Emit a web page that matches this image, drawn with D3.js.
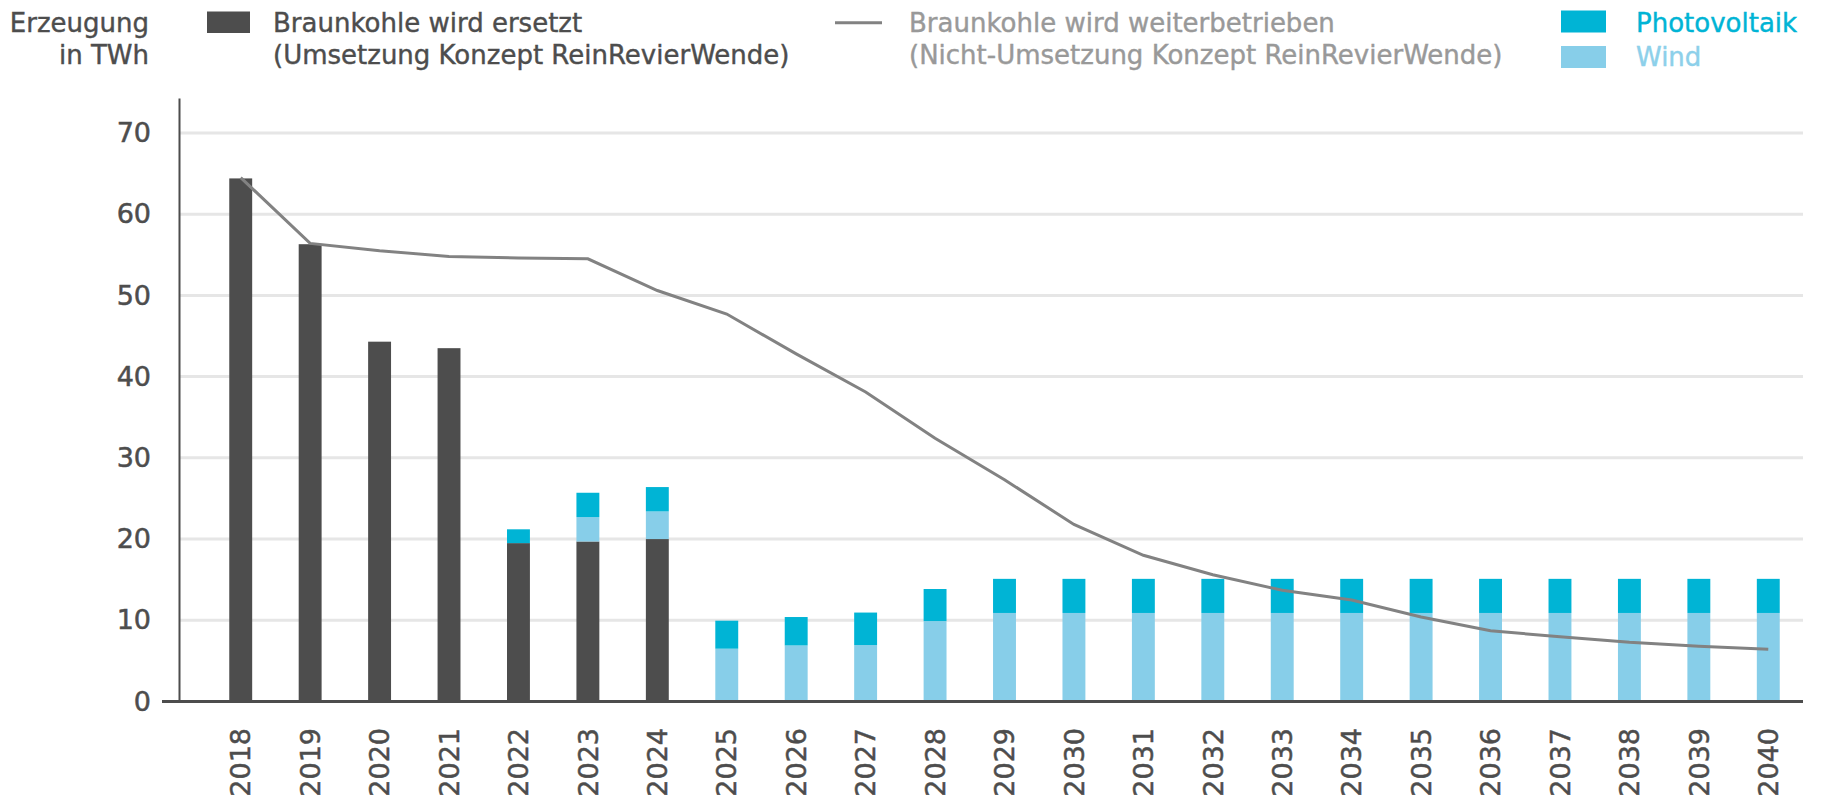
<!DOCTYPE html>
<html>
<head>
<meta charset="utf-8">
<script src="https://cdn.jsdelivr.net/npm/d3@7"></script>
<style>
    body { margin: 0; background: #fff; }
    svg text { font-family: "DejaVu Sans", sans-serif; }
</style>
</head>
<body>
<div id="chart"></div>
<script>
let years = ["2018","2019","2020","2021","2022","2023","2024","2025","2026","2027","2028","2029",
    "2030","2031","2032","2033","2034","2035","2036","2037","2038","2039","2040"]
// TWh
let braunkohle = [64.4, 56.3, 44.3, 43.5, 19.5, 19.7, 20.0, 0, 0, 0, 0, 0, 0, 0, 0, 0, 0, 0, 0, 0, 0, 0, 0]
let wind = [0, 0, 0, 0, 0, 3.0, 3.4, 6.5, 6.9, 6.95, 9.9, 10.9, 10.9, 10.9, 10.9, 10.9, 10.9, 10.9, 10.9, 10.9, 10.9, 10.9, 10.9]
let pv = [0, 0, 0, 0, 1.7, 3.0, 3.0, 3.45, 3.5, 4.0, 3.95, 4.2, 4.2, 4.2, 4.2, 4.2, 4.2, 4.2, 4.2, 4.2, 4.2, 4.2, 4.2]
let weiterbetrieb = [64.5, 56.4, 55.5, 54.8, 54.6, 54.5, 50.6, 47.7, 42.8, 38.1, 32.4, 27.3, 21.8, 18.0,
    15.6, 13.7, 12.5, 10.4, 8.7, 7.97, 7.28, 6.79, 6.42]
let yTicks = [0, 10, 20, 30, 40, 50, 60, 70]

let W = 1824, H = 805
let cDark = "#4d4d4d", cPV = "#00b4d5", cWind = "#87cee9", cLine = "#828282"

let svg = d3.select("div#chart").append("svg")
    .attr("width", W)
    .attr("height", H)

let x = d3.scaleBand().domain(years).range([206, 1803]).paddingInner(0.67).paddingOuter(0.335)
let y = d3.scaleLinear().domain([0, 74.3]).range([701.5, 98])

// gridlines
svg.append("g").selectAll("line")
    .data(yTicks.filter(d => d > 0))
    .enter().append("line")
    .attr("x1", 180).attr("x2", 1803)
    .attr("y1", d => y(d)).attr("y2", d => y(d))
    .style("stroke", "#e6e6e6")
    .style("stroke-width", 3)

// y axis
let yAxis = svg.append("g")
    .attr("transform", "translate(179,0)")
    .call(d3.axisLeft(y).tickValues(yTicks).tickSize(0).tickPadding(28))
yAxis.select(".domain").style("stroke", cDark).style("stroke-width", 2)
yAxis.selectAll("text")
    .style("font-size", "27px")
    .style("fill", cDark)
    .style("stroke", cDark)
    .style("stroke-width", 0.5)

// stacked bars
let rows = years.map((yr, i) => ({year: yr, braunkohle: braunkohle[i], wind: wind[i], pv: pv[i]}))
let stack = d3.stack().keys(["braunkohle", "wind", "pv"])(rows)
let colors = {braunkohle: cDark, wind: cWind, pv: cPV}

svg.append("g").selectAll("g")
    .data(stack)
    .enter().append("g")
    .style("fill", d => colors[d.key])
    .selectAll("rect")
    .data(d => d)
    .enter().append("rect")
    .attr("x", d => x(d.data.year))
    .attr("width", x.bandwidth())
    .attr("y", d => y(d[1]))
    .attr("height", d => y(d[0]) - y(d[1]))

// baseline at 0
svg.append("line")
    .attr("x1", 162).attr("x2", 1803)
    .attr("y1", y(0)).attr("y2", y(0))
    .style("stroke", cDark)
    .style("stroke-width", 3)

// line: Braunkohle wird weiterbetrieben
let line = d3.line()
    .x((d, i) => x(years[i]) + x.bandwidth() / 2)
    .y(d => y(d))
svg.append("path")
    .datum(weiterbetrieb)
    .attr("d", line)
    .style("fill", "none")
    .style("stroke", cLine)
    .style("stroke-width", 3)

// x labels, rotated
svg.append("g").selectAll("text")
    .data(years)
    .enter().append("text")
    .attr("transform", d => "translate(" + (x(d) + x.bandwidth() / 2) + ",728) rotate(-90)")
    .attr("text-anchor", "end")
    .attr("dy", "0.36em")
    .style("font-size", "27px")
    .style("fill", cDark)
    .style("stroke", cDark)
    .style("stroke-width", 0.5)
    .text(d => d)

// unit label
let unit = svg.append("text")
    .attr("text-anchor", "end")
    .style("font-size", "26px")
    .style("fill", cDark)
    .style("stroke", cDark)
    .style("stroke-width", 0.4)
unit.append("tspan").attr("x", 149).attr("y", 31.7).text("Erzeugung")
unit.append("tspan").attr("x", 149).attr("y", 63.5).text("in TWh")

// legend
let leg = svg.append("g")
leg.append("rect").attr("x", 207).attr("y", 11.5).attr("width", 43).attr("height", 21.5).style("fill", cDark)
let t1 = leg.append("text").style("font-size", "26px").style("fill", cDark)
    .style("stroke", cDark).style("stroke-width", 0.4)
t1.append("tspan").attr("x", 273).attr("y", 31.7).text("Braunkohle wird ersetzt")
t1.append("tspan").attr("x", 273).attr("y", 63.5).text("(Umsetzung Konzept ReinRevierWende)")

leg.append("line").attr("x1", 835).attr("x2", 882).attr("y1", 22.7).attr("y2", 22.7)
    .style("stroke", cLine).style("stroke-width", 3)
let t2 = leg.append("text").style("font-size", "26px").style("fill", "#999999")
    .style("stroke", "#999999").style("stroke-width", 0.4)
t2.append("tspan").attr("x", 909).attr("y", 31.7).text("Braunkohle wird weiterbetrieben")
t2.append("tspan").attr("x", 909).attr("y", 63.5).text("(Nicht-Umsetzung Konzept ReinRevierWende)")

leg.append("rect").attr("x", 1561).attr("y", 10.5).attr("width", 45).attr("height", 22).style("fill", cPV)
leg.append("rect").attr("x", 1561).attr("y", 46).attr("width", 45).attr("height", 22).style("fill", cWind)
leg.append("text").attr("x", 1636).attr("y", 31.7).style("font-size", "26px")
    .style("fill", cPV).style("stroke", cPV).style("stroke-width", 0.4).text("Photovoltaik")
leg.append("text").attr("x", 1636).attr("y", 65.5).style("font-size", "26px")
    .style("fill", "#8dd0ea").style("stroke", "#8dd0ea").style("stroke-width", 0.4).text("Wind")
</script>
</body>
</html>
